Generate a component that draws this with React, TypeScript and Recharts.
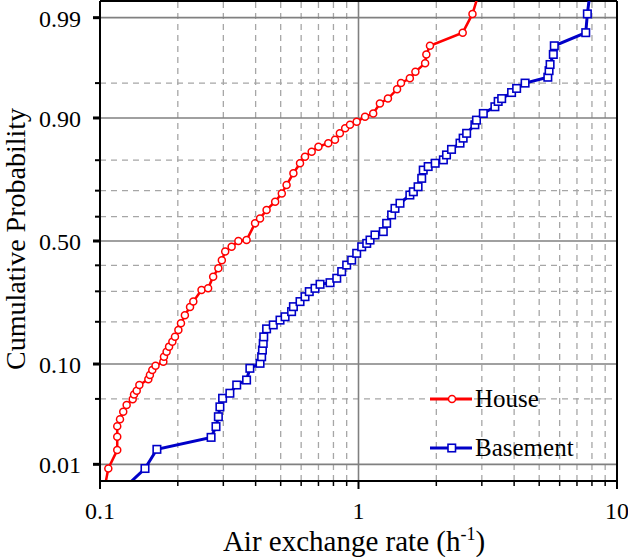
import { LineChart, Line, XAxis, YAxis, ReferenceLine } from "recharts";

// sorted air exchange rates (h-1) and their plotted cumulative probabilities
const houseX = [
  0.1012, 0.1077, 0.1166, 0.1166, 0.1166, 0.1195, 0.123, 0.1268, 0.1338, 0.1354, 0.1387, 0.142, 0.1538, 0.156,
  0.1593, 0.164, 0.1758, 0.1768, 0.181, 0.185, 0.1905, 0.195, 0.201, 0.2057, 0.213, 0.223, 0.2296, 0.247, 0.262,
  0.274, 0.287, 0.296, 0.305, 0.323, 0.343, 0.369, 0.398, 0.416, 0.441, 0.476, 0.505, 0.527, 0.56, 0.594, 0.621,
  0.659, 0.7, 0.764, 0.811, 0.847, 0.888, 0.927, 0.984, 1.06, 1.14, 1.21, 1.3, 1.41, 1.46, 1.58, 1.66, 1.81, 1.83,
  1.89, 2.53, 2.76, 3.05,
];
const houseP = [
  0.003, 0.0089, 0.0147, 0.0207, 0.0268, 0.0317, 0.0377, 0.0438, 0.0496, 0.055, 0.0595, 0.0668, 0.075, 0.0814,
  0.0895, 0.097, 0.1044, 0.114, 0.1245, 0.1356, 0.147, 0.159, 0.177, 0.196, 0.22, 0.246, 0.264, 0.305, 0.311,
  0.355, 0.388, 0.421, 0.456, 0.476, 0.5, 0.504, 0.573, 0.593, 0.627, 0.659, 0.69, 0.72, 0.76, 0.791, 0.81,
  0.824, 0.837, 0.846, 0.854, 0.869, 0.88, 0.887, 0.893, 0.902, 0.908, 0.924, 0.931, 0.943, 0.95, 0.955, 0.961,
  0.968, 0.974, 0.979, 0.985, 0.991, 0.997,
];
const basementX = [
  0.106, 0.1493, 0.166, 0.269, 0.281, 0.287, 0.291, 0.298, 0.318, 0.338, 0.369, 0.38, 0.416, 0.422, 0.425, 0.428,
  0.43, 0.441, 0.468, 0.497, 0.52, 0.551, 0.56, 0.594, 0.621, 0.645, 0.679, 0.71, 0.776, 0.824, 0.861, 0.9, 0.941,
  0.984, 1.029, 1.076, 1.108, 1.158, 1.247, 1.285, 1.343, 1.384, 1.447, 1.58, 1.63, 1.7, 1.756, 1.78, 1.86, 1.98,
  2.13, 2.19, 2.29, 2.47, 2.54, 2.62, 2.82, 2.86, 3.04, 3.37, 3.47, 3.58, 3.91, 4.09, 4.41, 5.4, 5.46, 5.51, 5.67,
  5.72, 7.57, 7.68, 8.0,
];
const basementP = [
  0.003, 0.0089, 0.015, 0.0204, 0.0266, 0.0336, 0.042, 0.0507, 0.0564, 0.0668, 0.0738, 0.0924, 0.1013, 0.114,
  0.128, 0.143, 0.159, 0.18, 0.191, 0.205, 0.215, 0.231, 0.247, 0.264, 0.281, 0.299, 0.311, 0.326, 0.332, 0.349,
  0.375, 0.401, 0.421, 0.449, 0.476, 0.49, 0.504, 0.525, 0.539, 0.573, 0.607, 0.633, 0.653, 0.684, 0.696, 0.714,
  0.743, 0.77, 0.781, 0.791, 0.801, 0.815, 0.83, 0.846, 0.858, 0.869, 0.887, 0.896, 0.908, 0.919, 0.927, 0.931,
  0.939, 0.944, 0.95, 0.956, 0.962, 0.967, 0.974, 0.979, 0.985, 0.991, 0.997,
];

const probMajor = [0.01, 0.1, 0.5, 0.9, 0.99];
const probMinor = [0.05, 0.2, 0.3, 0.4, 0.6, 0.7, 0.8, 0.95];
const xMajor = [0.1, 1, 10];
const xMinor = [0.2, 0.3, 0.4, 0.5, 0.6, 0.7, 0.8, 0.9, 2, 3, 4, 5, 6, 7, 8, 9];

const RED = "#ff0000";
const BLUE = "#0000c8";
const FONT = "Liberation Serif";
const txt = { fontFamily: FONT };

// inverse normal CDF (Acklam) -> probability paper
function probit(p: number) {
  const a = [-39.69683028665376, 220.9460984245205, -275.9285104469687, 138.357751867269, -30.66479806614716, 2.506628277459239];
  const b = [-54.47609879822406, 161.5858368580409, -155.6989798598866, 66.80131188771972, -13.28068155288572];
  const c = [-0.007784894002430293, -0.3223964580411365, -2.400758277161838, -2.549732539343734, 4.374664141464968, 2.938163982698783];
  const d = [0.007784695709041462, 0.3224671290700398, 2.445134137142996, 3.754408661907416];
  const lo = 0.02425;
  if (p < lo) {
    const q = Math.sqrt(-2 * Math.log(p));
    return (((((c[0] * q + c[1]) * q + c[2]) * q + c[3]) * q + c[4]) * q + c[5]) / ((((d[0] * q + d[1]) * q + d[2]) * q + d[3]) * q + 1);
  }
  if (p > 1 - lo) return -probit(1 - p);
  const q = p - 0.5;
  const r = q * q;
  return ((((((a[0] * r + a[1]) * r + a[2]) * r + a[3]) * r + a[4]) * r + a[5]) * q) /
    (((((b[0] * r + b[1]) * r + b[2]) * r + b[3]) * r + b[4]) * r + 1);
}

const toRows = (xs: number[], ps: number[]) => xs.map((x, i) => ({ x, z: probit(ps[i]) }));
const house = toRows(houseX, houseP);
const basement = toRows(basementX, basementP);

const yTicks = [...probMajor, ...probMinor].sort((a, b) => a - b);
const yTickZ = yTicks.map(probit);

const SquareDot = (props: any) => {
  const { cx, cy, index } = props;
  if (cx == null || cy == null) return <g key={index} />;
  return <rect key={index} x={cx - 3.75} y={cy - 3.75} width={7.5} height={7.5} fill="#fff" stroke={BLUE} strokeWidth={1.6} />;
};

const YTick = (props: any) => {
  const { x, y, payload } = props;
  const p = yTicks[yTickZ.findIndex((z) => Math.abs(z - payload.value) < 1e-9)];
  const major = probMajor.includes(p);
  return (
    <g>
      <line x1={x - (major ? 7 : 5)} x2={x} y1={y} y2={y} stroke="#000" strokeWidth={major ? 3 : 2} />
      {major && (
        <text x={x - 19} y={y} dy="0.38em" textAnchor="end" fontSize={24} style={txt} fill="#000">
          {p.toFixed(2)}
        </text>
      )}
    </g>
  );
};

const XTick = (props: any) => {
  const { x, y, payload } = props;
  const major = xMajor.includes(payload.value);
  return (
    <g>
      <line x1={x} x2={x} y1={y} y2={y + (major ? 8 : 5)} stroke="#000" strokeWidth={major ? 2 : 1.5} />
      {major && (
        <text x={x} y={y + 38} textAnchor="middle" fontSize={24} style={txt} fill="#000">
          {payload.value}
        </text>
      )}
    </g>
  );
};

function Legend() {
  const items = [
    { label: "House", color: RED, y: 399, square: false },
    { label: "Basement", color: BLUE, y: 448, square: true },
  ];
  return (
    <svg width={628} height={557} style={{ position: "absolute", left: 0, top: 0, pointerEvents: "none" }}>
      {items.map((it) => (
        <g key={it.label}>
          <line x1={430} x2={472} y1={it.y} y2={it.y} stroke={it.color} strokeWidth={3} />
          {it.square ? (
            <rect x={448} y={it.y - 3.75} width={7.5} height={7.5} fill="#fff" stroke={it.color} strokeWidth={1.6} />
          ) : (
            <circle cx={452} cy={it.y} r={3.5} fill="#fff" stroke={it.color} strokeWidth={1.5} />
          )}
          <text x={475} y={it.y + 8} fontSize={25} style={txt} fill="#000">{it.label}</text>
        </g>
      ))}
    </svg>
  );
}

export default function App() {
  return (
    <div style={{ position: "absolute", left: 0, top: 0, width: 628, height: 557, background: "#fff", fontFamily: FONT }}>
      <LineChart width={628} height={557} margin={{ top: 1, right: 11, left: 0, bottom: 0 }}>
        <XAxis
          dataKey="x"
          type="number"
          scale="log"
          domain={[0.1, 10]}
          allowDataOverflow
          ticks={[...xMajor, ...xMinor].sort((a, b) => a - b)}
          interval={0}
          height={76}
          tickSize={0}
          tickMargin={0}
          axisLine={{ stroke: "#000", strokeWidth: 2 }}
          tick={<XTick />}
          label={() => (
            <text x={354} y={551} textAnchor="middle" fontSize={29} style={txt} fill="#000">
              Air exchange rate (h<tspan dy={-11} fontSize={18}>-1</tspan><tspan dy={11}>)</tspan>
            </text>
          )}
        />
        <YAxis
          dataKey="z"
          type="number"
          domain={[-2.5, 2.5]}
          allowDataOverflow
          ticks={yTickZ}
          interval={0}
          width={100}
          tickSize={0}
          tickMargin={0}
          axisLine={{ stroke: "#000", strokeWidth: 2 }}
          tick={<YTick />}
          label={() => (
            <text x={0} y={0} transform="translate(25,239) rotate(-90)" textAnchor="middle" fontSize={28} style={txt} fill="#000">
              Cumulative Probability
            </text>
          )}
        />
        {xMinor.map((v) => (
          <ReferenceLine key={"xm" + v} x={v} stroke="#a6a6a6" strokeWidth={1.3} strokeDasharray="6 5" />
        ))}
        {probMinor.map((p) => (
          <ReferenceLine key={"ym" + p} y={probit(p)} stroke="#a6a6a6" strokeWidth={1.3} strokeDasharray="6 5" />
        ))}
        <ReferenceLine x={1} stroke="#808080" strokeWidth={1.6} />
        {probMajor.map((p) => (
          <ReferenceLine key={"yM" + p} y={probit(p)} stroke="#808080" strokeWidth={1.6} />
        ))}
        <ReferenceLine x={10} stroke="#000" strokeWidth={2} />
        <ReferenceLine y={2.5} stroke="#000" strokeWidth={2} />
        <Line
          data={house}
          dataKey="z"
          stroke={RED}
          strokeWidth={2.5}
          dot={{ r: 3.5, fill: "#fff", stroke: RED, strokeWidth: 1.5 }}
          isAnimationActive={false}
        />
        <Line
          data={basement}
          dataKey="z"
          stroke={BLUE}
          strokeWidth={3}
          dot={<SquareDot />}
          isAnimationActive={false}
        />
      </LineChart>
      <Legend />
    </div>
  );
}
